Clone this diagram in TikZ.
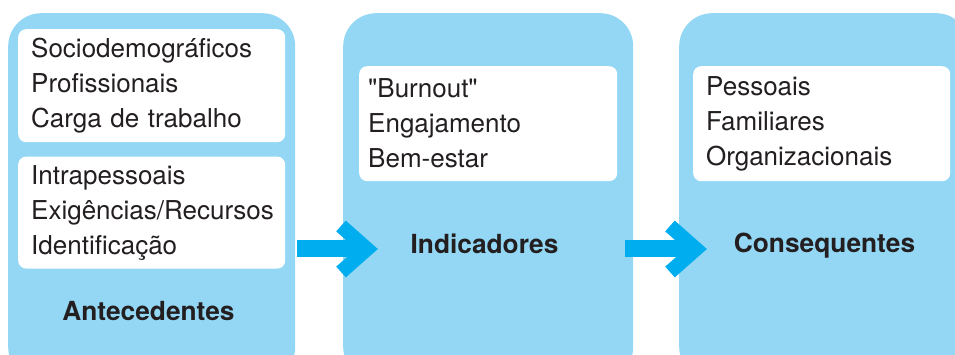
\documentclass[tikz,border=0pt]{standalone}
\usepackage{fontspec}
\setmainfont{TeX Gyre Heros}
\usetikzlibrary{positioning,calc}
\definecolor{panelblue}{HTML}{93D7F4}
\definecolor{arrowblue}{HTML}{00AEEF}
\definecolor{inkgray}{HTML}{231F20}
\hfuzz=20pt

\begin{document}
\begin{tikzpicture}[
    x=1pt, y=-1pt,
    node distance=14pt,
    panel/.style={
        fill=panelblue, rounded corners=33pt, anchor=north west,
        inner sep=0pt, minimum width=#1, minimum height=367pt
      },
    listbox/.style={
        fill=white, rounded corners=8pt, anchor=north west, align=left,
        inner xsep=13pt, inner ysep=0pt, text=inkgray,
        font=\fontsize{26}{35}\selectfont
      },
    heading/.style={
        anchor=base, text=inkgray, font=\fontsize{26.3}{30}\selectfont\bfseries
      },
    shaft/.style={
        draw=arrowblue, line width=17pt
      },
    chevron/.style={
        draw=arrowblue, line width=14.4pt, miter limit=10, line join=miter
      },
  ]
  \useasboundingbox (0,0) rectangle (955,355);
  \clip (0,0) rectangle (955,355);

  % panels
  \node[panel=287pt] (ant) at (8,13) {};
  \node[panel=290pt] (ind) at (343,13) {};
  \node[panel=290pt] (con) at (679,13) {};

  % lists
  \node[listbox, minimum height=113pt, text width=241pt] (socio) at (18,29)
    {Sociodemográficos\\Profissionais\\Carga de trabalho};
  \node[listbox, minimum height=112pt, text width=241pt,
    below=14pt of socio.south west, anchor=north west] (intra)
    {Intrapessoais\\Exigências/Recursos\\Identificação};
  \node[listbox, minimum height=115pt, text width=240pt, inner xsep=9pt] (burn) at (359,66)
    {\textquotedbl Burnout\textquotedbl\\Engajamento\\Bem-estar};
  \node[listbox, minimum height=115pt, text width=231pt] (pess) at (693,66)
    {Pessoais\\Familiares\\Organizacionais};

  \node[heading] (antlbl) at (148.5,320) {Antecedentes};
  \node[heading] (indlbl) at (484.5,254) {Indicadores};
  \node[heading] (conlbl) at (824.5,252) {Consequentes};

  % arrows
  \coordinate (tailA) at ($(ant.north east)+(2,236)$);
  \coordinate (tipA) at ($(ind.north west)+(24,236)$);
  \coordinate (tailB) at ($(ind.north east)+(-8,236)$);
  \coordinate (tipB) at ($(con.north west)+(17,236)$);
  \foreach \a/\b in {tailA/tipA, tailB/tipB} {
    \draw[shaft] (\a) -- (\b);
    \draw[chevron] ($(\b)+(-26,-23)$) -- (\b) -- ($(\b)+(-26,23)$);
  }
\end{tikzpicture}
\end{document}
